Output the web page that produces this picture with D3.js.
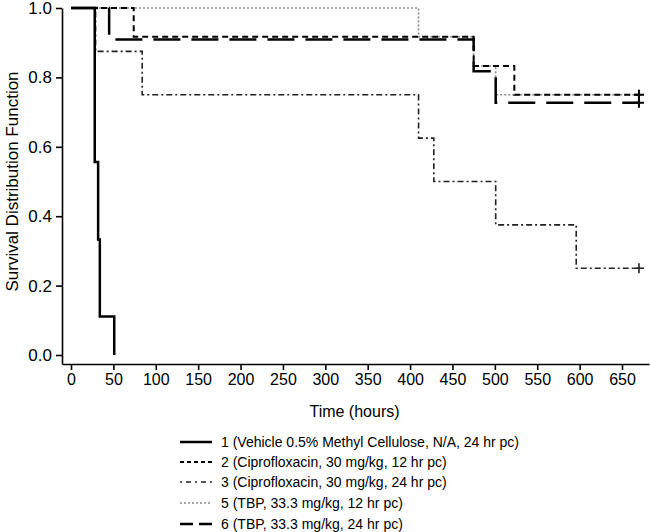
<!DOCTYPE html>
<html>
<head>
<meta charset="utf-8">
<script src="https://cdn.jsdelivr.net/npm/d3@7"></script>
<style>
  html, body { margin: 0; padding: 0; background: #fff; }
  svg { display: block; font-family: "Liberation Sans", Arial, sans-serif; }
</style>
</head>
<body>
<svg id="chart" width="650" height="532"></svg>
<script>
// ---- Data ----
const seriesNames = [
  "1 (Vehicle 0.5% Methyl Cellulose, N/A, 24 hr pc)",
  "2 (Ciprofloxacin, 30 mg/kg, 12 hr pc)",
  "3 (Ciprofloxacin, 30 mg/kg, 24 hr pc)",
  "5 (TBP, 33.3 mg/kg, 12 hr pc)",
  "6 (TBP, 33.3 mg/kg, 24 hr pc)"
];
const times1 = [0, 28, 32, 34, 51];
const surv1  = [1, 0.556, 0.333, 0.111, 0];
const times2 = [0, 74, 475, 523];
const surv2  = [1, 0.917, 0.833, 0.75];
const times3 = [0, 29, 84, 410, 428, 501, 596];
const surv3  = [1, 0.875, 0.75, 0.625, 0.5, 0.375, 0.25];
const times5 = [0, 410, 475, 501];
const surv5  = [1, 0.917, 0.833, 0.75];
const times6 = [0, 45, 475, 501];
const surv6  = [1, 0.909, 0.818, 0.727];
// last observation time per series
const endTimes = [51, 670, 670, 670, 670];
const censored = [false, true, true, true, true];

const xTicks = [0, 50, 100, 150, 200, 250, 300, 350, 400, 450, 500, 550, 600, 650];
const yTicks = [0, 0.2, 0.4, 0.6, 0.8, 1.0];

// ---- Styles ----
const styles = [
  { color: "#000", width: 2.5, dash: null,          legDash: null },
  { color: "#000", width: 2,   dash: "6 4",         legDash: "4 3" },
  { color: "#222", width: 1.6, dash: "6 3 2 3",     legDash: "2 4 5 4" },
  { color: "#8a8a8a", width: 1.6, dash: "2 2",      legDash: "2 2" },
  { color: "#000", width: 2.5, dash: "27 11",       legDash: "13 6" }
];

const allTimes = [times1, times2, times3, times5, times6];
const allSurv = [surv1, surv2, surv3, surv5, surv6];

const svg = d3.select("#chart");

// scales: tick 0 at x=71, 650 at x=622; axis line spans 62..649
const x0 = d3.scaleLinear().domain([0, 650]).range([71, 622]);
const x = d3.scaleLinear().domain([x0.invert(62), x0.invert(649)]).range([62, 649]);
const y0 = d3.scaleLinear().domain([0, 1]).range([355, 8]);
const y = d3.scaleLinear().domain([y0.invert(364), 1]).range([364, 8]);

// axes
const xAxis = d3.axisBottom(x).tickValues(xTicks).tickFormat(d3.format("d")).tickSizeInner(6).tickSizeOuter(0).tickPadding(4);
const yAxis = d3.axisLeft(y).tickValues(yTicks).tickFormat(d3.format(".1f")).tickSizeInner(6).tickSizeOuter(0).tickPadding(4);

const gx = svg.append("g").attr("transform", `translate(0,${y(y.domain()[0])})`).call(xAxis);
const gy = svg.append("g").attr("transform", `translate(${x(x.domain()[0])},0)`).call(yAxis);
[gx, gy].forEach(g => {
  g.selectAll("path.domain").attr("stroke", "#000").attr("stroke-width", 1.6);
  g.selectAll(".tick line").attr("stroke", "#000").attr("stroke-width", 1.6);
  g.selectAll(".tick text").attr("fill", "#000")
   .style("font-family", "'Liberation Sans', Arial, sans-serif");
});
gx.selectAll(".tick text").style("font-size", "16px");
gy.selectAll(".tick text").style("font-size", "17px");

// axis titles
svg.append("text")
  .attr("x", (x(0) + x(650)) / 2 + 8).attr("y", 417)
  .attr("text-anchor", "middle").style("font-size", "16px").attr("fill", "#000")
  .text("Time (hours)");
svg.append("text")
  .attr("transform", `translate(18,${(y(0) + y(1)) / 2}) rotate(-90)`)
  .attr("text-anchor", "middle").style("font-size", "17px").attr("fill", "#000")
  .text("Survival Distribution Function");

// survival step lines
function stepPoints(times, surv, endT) {
  const pts = [];
  for (let k = 0; k < times.length; k++) {
    if (k > 0) pts.push([times[k], surv[k - 1]]);
    pts.push([times[k], surv[k]]);
  }
  pts.push([endT, surv[surv.length - 1]]);
  return pts;
}
const line = d3.line().x(d => x(d[0])).y(d => y(d[1]));

const order = [3, 2, 1, 4, 0];
order.forEach(i => {
  const pts = stepPoints(allTimes[i], allSurv[i], endTimes[i]);
  const st = styles[i];
  svg.append("path")
    .attr("d", line(pts))
    .attr("fill", "none")
    .attr("stroke", st.color)
    .attr("stroke-width", st.width)
    .attr("stroke-dasharray", st.dash)
    .attr("stroke-linejoin", "miter");
  if (censored[i]) {
    const cx = x(endTimes[i]);
    const cy = y(allSurv[i][allSurv[i].length - 1]);
    const s = 5;
    svg.append("path")
      .attr("d", `M${cx - s},${cy}H${cx + s}M${cx},${cy - s}V${cy + s}`)
      .attr("stroke", st.color)
      .attr("stroke-width", Math.min(st.width, 2));
  }
});

// legend
const legRows = [442, 462, 482, 503, 524];
seriesNames.forEach((name, i) => {
  const st = styles[i];
  svg.append("line")
    .attr("x1", 180).attr("x2", 212)
    .attr("y1", legRows[i]).attr("y2", legRows[i])
    .attr("stroke", st.color).attr("stroke-width", st.width)
    .attr("stroke-dasharray", st.legDash);
  svg.append("text")
    .attr("x", 221).attr("y", legRows[i]).attr("dy", "0.35em")
    .style("font-size", "14px").attr("fill", "#000")
    .text(name);
});
</script>
</body>
</html>
